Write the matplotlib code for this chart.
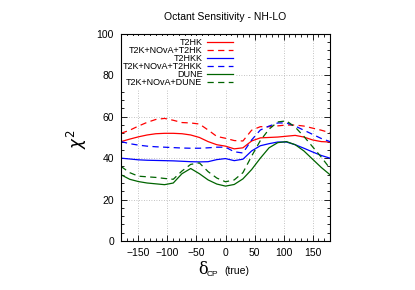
import matplotlib
matplotlib.use('Agg')
from matplotlib import pyplot as plt
from matplotlib.ticker import MultipleLocator
import numpy as np

plt.rcParams['font.family'] = ['Liberation Sans', 'DejaVu Sans']
plt.rcParams['mathtext.fontset'] = 'dejavusans'

delta = [-180, -165, -150, -135, -120, -105, -90, -75, -60, -45, -30, -15, 0,
         15, 30, 45, 60, 75, 90, 105, 120, 135, 150, 165, 180]

t2hk = [48, 49.2, 50.3, 51.2, 51.8, 52, 52, 51.8, 51.2, 50, 48, 46.5, 45.8,
        44.5, 45, 48.3, 49.8, 50, 50.2, 50.6, 51, 50.2, 48.8, 48, 47.8]
t2k_nova_t2hk = [52, 53.5, 55.5, 57.3, 58.7, 59.2, 58.3, 57.2, 57, 56.5, 53.6, 50.5, 49.6,
                 48.5, 48.3, 53.5, 55.2, 55.2, 55.6, 56, 56, 55.5, 54.5, 53.5, 52.3]
t2hkk = [40, 39.6, 39.2, 39, 38.9, 38.8, 38.7, 38.5, 38.3, 38.2, 38.3, 39.3, 39.8,
         38.8, 39.5, 43.5, 46, 47, 47.8, 47.8, 46.5, 44.8, 43, 41.3, 40]
t2k_nova_t2hkk = [48, 47, 46.3, 45.8, 45.5, 45.3, 45.1, 44.9, 44.8, 44.8, 45, 45.3, 45.3,
                  43.1, 42.5, 48.8, 53.6, 55.5, 57, 57, 55.5, 53.5, 51.5, 49.5, 48]
dune = [32, 29.8, 28.7, 28, 27.6, 27.2, 28, 32.5, 35, 32.5, 29.5, 27.5, 26.5,
        27.3, 30, 34.5, 40, 45, 47.5, 48, 46.5, 43.5, 39.5, 35.5, 32]
t2k_nova_dune = [36, 33, 31.3, 31, 30.7, 30.2, 29.8, 33.8, 37, 37.7, 33.5, 30.4, 28.6,
                 29.5, 33, 41, 48.5, 54, 57.5, 58, 55, 50.5, 45.5, 40.5, 35]

xgrid = [-150, -100, -50, 0, 50, 100, 150]
ygrid = [20, 40, 60, 80]

fig = plt.figure(figsize=(4.15, 2.9), dpi=100)
ax = fig.add_axes([0.2916, 0.169, 0.5036, 0.714])

# grid drawn low so the legend box hides it, ticks stay on top
for gx in xgrid:
    ax.axvline(gx, color='#b0b0b0', linestyle=(0, (1, 2)), linewidth=0.6, zorder=0.5)
for gy in ygrid:
    ax.axhline(gy, color='#b0b0b0', linestyle=(0, (1, 2)), linewidth=0.6, zorder=0.5)

dash = (0, (5, 3.5))
ax.plot(delta, t2hk, color='#ff0000', lw=0.9, label='T2HK')
ax.plot(delta, t2k_nova_t2hk, color='#ff0000', lw=0.9, ls=dash, label='T2K+NOvA+T2HK')
ax.plot(delta, t2hkk, color='#0000ff', lw=0.9, label='T2HKK')
ax.plot(delta, t2k_nova_t2hkk, color='#0000ff', lw=0.9, ls=dash, label='T2K+NOvA+T2HKK')
ax.plot(delta, dune, color='#006400', lw=0.9, label='DUNE')
ax.plot(delta, t2k_nova_dune, color='#006400', lw=0.9, ls=dash, label='T2K+NOvA+DUNE')

ax.set_xlim(-180, 180)
ax.set_ylim(0, 100)
ax.set_xticks(xgrid)
ax.set_yticks([0, 20, 40, 60, 80, 100])
ax.xaxis.set_minor_locator(MultipleLocator(10))
ax.yaxis.set_minor_locator(MultipleLocator(4))
ax.tick_params(which='both', direction='in', top=True, right=True, labelsize=7.5, width=0.6)
ax.tick_params(which='major', length=4.5, pad=5)
ax.tick_params(which='minor', length=2.2)
for s in ax.spines.values():
    s.set_linewidth(0.8)

leg = ax.legend(loc='upper left', bbox_to_anchor=(0.0, 0.99), fontsize=6.5, markerfirst=False,
                frameon=True, facecolor='white', edgecolor='none', framealpha=1, fancybox=False,
                handlelength=2.9, handletextpad=0.5, labelspacing=-0.1, borderpad=0.2,
                borderaxespad=0)
leg.set_zorder(2.2)
for t in leg.get_texts():
    t.set_ha('right')

fig.text(0.543, 0.942, 'Octant Sensitivity - NH-LO', ha='center', va='center', fontsize=7.5)
fig.text(0.185, 0.52, r'$\chi^2$', rotation=90, ha='center', va='center', fontsize=12)
fig.text(0.489, 0.072, 'δ', ha='center', va='center', fontsize=11.5, family='DejaVu Serif')
fig.text(0.512, 0.055, 'CP', ha='center', va='center', fontsize=6)
fig.text(0.571, 0.066, '(true)', ha='center', va='center', fontsize=7.5)

fig.savefig('out.png', dpi=100)
